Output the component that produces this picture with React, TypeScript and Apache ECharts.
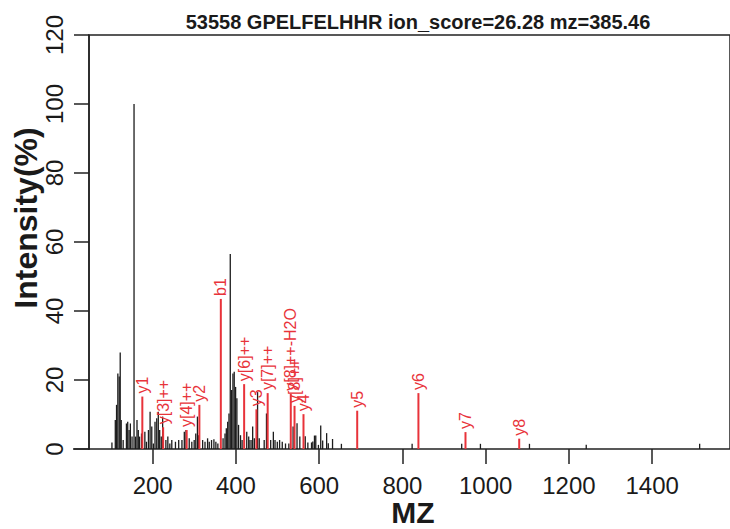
import React, { useEffect, useRef } from "react";
import * as echarts from "echarts";

const titleText = "53558 GPELFELHHR ion_score=26.28 mz=385.46";
const xName = "MZ";
const yName = "Intensity(%)";
const xTicks = [200, 400, 600, 800, 1000, 1200, 1400];

// unmatched peaks (black)
const peakMz = [
  102.1, 110.2, 113.2, 116.3, 119.6, 122, 124.4, 129.1, 136.9, 140, 143.3, 146.4, 150.4, 155.2,
  159, 162.3, 165.4, 168.4, 173.2, 181.2, 185, 189.8, 193.8, 197.8, 201.6, 205.6, 209.7, 213.5,
  216.8, 220.6, 223.9, 231.7, 236.4, 241.2, 245.9, 254.7, 262.5, 270.3, 276, 280, 287.8, 294,
  299.7, 303.5, 307.5, 309.9, 320, 325.7, 331.9, 335.9, 341.4, 347.1, 351.8, 356.6, 369.1, 373.8,
  376.9, 380.2, 383.3, 386.4, 389.7, 392.8, 395.9, 399.2, 402.3, 406.3, 411, 414.8, 426, 430.7,
  433.8, 438.5, 440.2, 444.2, 452, 456, 467.9, 473.4, 483.5, 489.9, 493.9, 499.4, 504.9, 511.3,
  519.1, 527.1, 537.3, 546.8, 553.5, 566.5, 572.8, 581.6, 584.7, 588.7, 591.8, 598.2, 603.7,
  608.4, 617.9, 621.9, 632.1, 653.4, 823.3, 942.4, 987.4, 1105.2, 1241.6, 1514.1,
];
const peakInt = [
  1.9, 8.4, 12.8, 21.9, 21, 28, 8.4, 2.6, 7.4, 7.9, 5.5, 7.4, 3.6, 100,
  3.6, 8.4, 5.5, 3.6, 4.5, 5.0, 2.1, 5.5, 10.8, 6.5, 1.6, 7.9, 8.9, 10.8,
  5.5, 3.6, 9.4, 2.6, 3.6, 1.6, 2.6, 2.1, 2.6, 2.6, 5.0, 5.5, 3.1, 2.1,
  2.6, 4.5, 9.4, 4.0, 2.6, 2.1, 3.1, 2.1, 2.6, 2.8, 2.1, 1.6, 3.1, 4.5,
  6.0, 7.9, 10.3, 56.5, 17.1, 21.9, 22.4, 18, 14.7, 7, 4, 2.6, 5.0, 3.6,
  2.6, 2.6, 6.5, 3.1, 16.5, 3.1, 2.6, 10.3, 2.6, 5.0, 2.6, 2.1, 2.6, 2.1,
  1.6, 1.6, 6.5, 7.5, 3.6, 3.7, 1.9, 1.9, 2.2, 3.9, 3.9, 1.2, 6.8,
  2.5, 4.6, 1.7, 2.9, 1.5, 1.5, 1.5, 1.5, 1.5, 1.2, 1.5,
];

// matched fragment ions (red)
const ionLabels = ["y1", "y[3]++", "y[4]++", "y2", "b1", "y[6]++", "y3", "y[7]++", "y[8]++-H2O", "y[8]++", "y4", "y5", "y6", "y7", "y8"];
const ionMz = [175.12, 225.12, 281.66, 312.18, 363.7, 419.72, 449.24, 476.26, 531.77, 540.78, 562.32, 691.36, 838.43, 951.52, 1080.56];
const ionInt = [15.2, 6.3, 5.5, 12.8, 43.5, 18.8, 11.5, 16.2, 16, 12.5, 10.1, 11.1, 16.2, 4.9, 3.0];

const FONT = "'Liberation Sans', Arial, Helvetica, sans-serif";
const BLACK = "#1c1c1c";
const RED = "#e8333a";

export default function App() {
  const ref = useRef<HTMLDivElement>(null);
  useEffect(() => {
    if (!ref.current) return;
    const chart = echarts.init(ref.current, null, { renderer: "svg" });
    const black = peakMz.map((m, i) => [m, peakInt[i]]);
    const red = ionMz.map((m, i) => [m, ionInt[i]]);
    chart.setOption({
      animation: false,
      backgroundColor: "#ffffff",
      title: {
        text: titleText,
        left: 413,
        top: 7,
        textAlign: "center",
        textStyle: { fontFamily: FONT, fontSize: 20, fontWeight: "bold", color: "#1a1a1a" },
      },
      grid: {
        left: 89,
        right: -9,
        top: 35,
        bottom: 80,
        show: true,
        borderColor: "#222",
        borderWidth: 1.5,
        containLabel: false,
      },
      xAxis: {
        type: "value",
        min: 47,
        max: 1587,
        splitLine: { show: false },
        axisLine: { show: false },
        axisTick: {
          show: true,
          length: 15,
          customValues: xTicks,
          lineStyle: { color: "#222", width: 1.5 },
        },
        axisLabel: {
          customValues: xTicks,
          margin: 24,
          fontFamily: FONT,
          fontSize: 24,
          color: "#1a1a1a",
          formatter: (v: number) => String(v),
        },
      },
      yAxis: {
        type: "value",
        min: 0,
        max: 120,
        interval: 20,
        splitLine: { show: false },
        axisLine: { show: true, lineStyle: { color: "#222", width: 1.5 } },
        axisTick: { show: true, length: 15, lineStyle: { color: "#222", width: 1.5 } },
        axisLabel: {
          rotate: 90,
          margin: 23,
          fontFamily: FONT,
          fontSize: 24,
          color: "#1a1a1a",
        },
      },
      graphic: [
        {
          type: "line",
          shape: { x1: 73, y1: 449, x2: 90, y2: 449 },
          style: { stroke: "#222", lineWidth: 1.5 },
        },
        {
          type: "text",
          x: 413,
          y: 512,
          style: {
            text: xName,
            font: `bold 30px ${FONT}`,
            fill: "#1a1a1a",
            align: "center",
            verticalAlign: "middle",
          },
        },
        {
          type: "text",
          x: 26,
          y: 218,
          rotation: Math.PI / 2,
          style: {
            text: yName,
            font: `bold 32px ${FONT}`,
            fill: "#1a1a1a",
            align: "center",
            verticalAlign: "middle",
          },
        },
      ],
      series: [
        {
          type: "custom",
          name: "peaks",
          data: black,
          encode: { x: 0, y: 1 },
          renderItem: (params: any, api: any) => {
            const x = api.value(0);
            const y = api.value(1);
            const top = api.coord([x, y]);
            const base = api.coord([x, 0]);
            return {
              type: "line",
              shape: { x1: top[0], y1: top[1], x2: base[0], y2: base[1] },
              style: { stroke: BLACK, lineWidth: 1.3 },
            };
          },
        },
        {
          type: "custom",
          name: "ions",
          data: red,
          encode: { x: 0, y: 1 },
          z: 3,
          renderItem: (params: any, api: any) => {
            const x = api.value(0);
            const y = api.value(1);
            const top = api.coord([x, y]);
            const base = api.coord([x, 0]);
            return {
              type: "group",
              children: [
                {
                  type: "line",
                  shape: { x1: top[0], y1: top[1], x2: base[0], y2: base[1] },
                  style: { stroke: RED, lineWidth: 2 },
                },
                {
                  type: "text",
                  x: top[0],
                  y: top[1] - 3,
                  rotation: Math.PI / 2,
                  style: {
                    text: ionLabels[params.dataIndex],
                    font: `16px ${FONT}`,
                    fill: RED,
                    align: "left",
                    verticalAlign: "middle",
                  },
                },
              ],
            };
          },
        },
      ],
    });
    return () => chart.dispose();
  }, []);
  return (
    <div
      ref={ref}
      style={{ position: "fixed", left: 0, top: 0, width: 730, height: 529, background: "#fff" }}
    />
  );
}
